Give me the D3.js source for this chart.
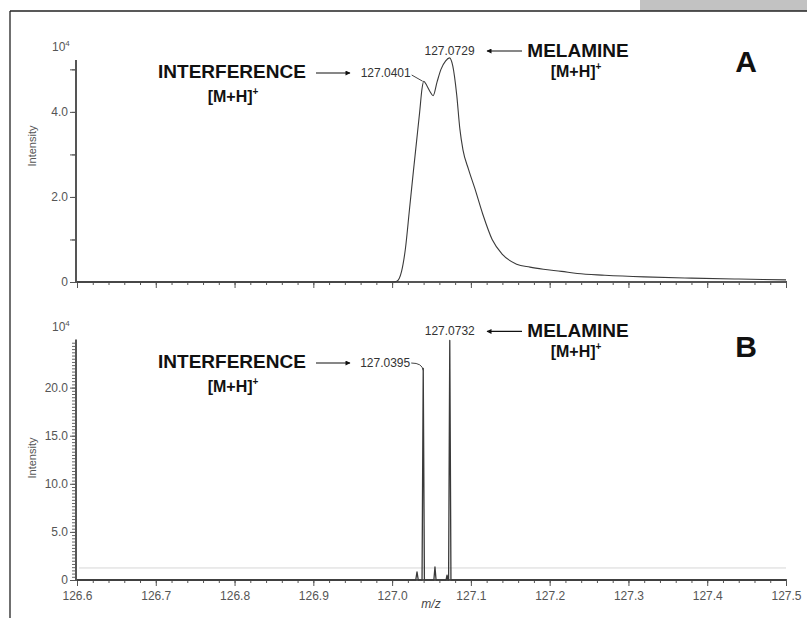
<!DOCTYPE html>
<html>
<head>
<meta charset="utf-8">
<script src="https://cdn.jsdelivr.net/npm/d3@7"></script>
<style>
  html, body { margin: 0; padding: 0; background: #fff; }
  svg { display: block; font-family: "Liberation Sans", Arial, sans-serif; }
</style>
</head>
<body>
<svg id="chart" width="807" height="618"></svg>
<script>
// m/z axis shared by both spectra
const mzDomain = [126.6, 127.5];
const mzMajorTicks = [126.6, 126.7, 126.8, 126.9, 127.0, 127.1, 127.2, 127.3, 127.4, 127.5];
const mzTickLabels = ["126.6", "126.7", "126.8", "126.9", "127.0", "127.1", "127.2", "127.3", "127.4", "127.5"];

// Spectrum A (intensity in 10^4 counts): low-resolution profile, two overlapping peaks
const mzA = [126.600, 127.000, 127.006, 127.012, 127.017, 127.022, 127.027, 127.031, 127.035, 127.038,
             127.0401, 127.044, 127.048, 127.052, 127.057, 127.062, 127.068, 127.0729, 127.077, 127.082,
             127.086, 127.090, 127.097, 127.105, 127.115, 127.127, 127.140, 127.158, 127.175, 127.192,
             127.215, 127.235, 127.270, 127.320, 127.380, 127.440, 127.500];
const intensityA = [0.0, 0.0, 0.02, 0.25, 0.8, 1.7, 2.6, 3.3, 4.0, 4.55,
                    4.72, 4.62, 4.48, 4.38, 4.7, 5.0, 5.2, 5.27, 5.08, 4.4,
                    3.6, 3.1, 2.65, 2.2, 1.6, 1.0, 0.65, 0.42, 0.35, 0.3,
                    0.25, 0.2, 0.16, 0.12, 0.09, 0.07, 0.05];
const yTicksA = [0, 1, 2, 3, 4, 5];
const yLabelsA = { 0: "0", 2: "2.0", 4: "4.0" };

// Spectrum B (intensity in 10^4 counts): high-resolution, baseline-separated peaks
const mzB = [126.600, 127.0300, 127.0316, 127.0332, 127.0380, 127.0395, 127.0410, 127.0530, 127.0544, 127.0558,
             127.0685, 127.0697, 127.0709, 127.0717, 127.0732, 127.0747, 127.500];
const intensityB = [0.0, 0.0, 0.85, 0.0, 0.0, 22.0, 0.0, 0.0, 1.35, 0.0,
                    0.0, 0.5, 0.0, 0.0, 24.9, 0.0, 0.0];
const yMajorB = [0, 5, 10, 15, 20];
const yLabelsB = ["0", "5.0", "10.0", "15.0", "20.0"];
const thresholdB = 1.25;

// Annotated peaks
const peaksA = { interference: { mz: 127.0401, label: "127.0401" }, melamine: { mz: 127.0729, label: "127.0729" } };
const peaksB = { interference: { mz: 127.0395, label: "127.0395" }, melamine: { mz: 127.0732, label: "127.0732" } };

const svg = d3.select("#chart");
const axisColor = "#555";
const traceColor = "#3a3a3a";
const labelColor = "#555";

// Frame and header tab
svg.append("rect").attr("x", 640).attr("y", 0).attr("width", 167).attr("height", 11).attr("fill", "#c2c2c2");
svg.append("line").attr("x1", 10).attr("x2", 807).attr("y1", 11).attr("y2", 11).attr("stroke", "#222").attr("stroke-width", 1.3);
svg.append("line").attr("x1", 10).attr("x2", 10).attr("y1", 11).attr("y2", 618).attr("stroke", "#222").attr("stroke-width", 1.3);

const defs = svg.append("defs");
defs.append("marker").attr("id", "arrow").attr("viewBox", "0 0 10 10")
  .attr("refX", 9).attr("refY", 5).attr("markerWidth", 7).attr("markerHeight", 5)
  .attr("markerUnits", "userSpaceOnUse").attr("orient", "auto")
  .append("path").attr("d", "M0,0 L10,5 L0,10 Z").attr("fill", "#111");

const x = d3.scaleLinear().domain(mzDomain).range([77, 786]);

function drawPanel(cfg) {
  const g = svg.append("g");
  const y = d3.scaleLinear().domain(cfg.yDomain).range(cfg.yRange);
  const y0 = y(0);

  // x axis: minor ticks every 0.02, major every 0.1
  const xMinor = d3.range(0, 46).map(i => 126.6 + i * 0.02);
  g.append("g").attr("transform", `translate(0,${y0})`)
    .call(d3.axisBottom(x).tickValues(xMinor).tickSize(3).tickFormat(""))
    .call(a => a.select(".domain").remove())
    .call(a => a.selectAll("line").attr("stroke", axisColor));
  const xMaj = g.append("g").attr("transform", `translate(0,${y0})`)
    .call(d3.axisBottom(x).tickValues(mzMajorTicks).tickSize(6).tickSizeOuter(0)
      .tickFormat((d, i) => cfg.showXLabels ? mzTickLabels[i] : ""))
    .call(a => a.select(".domain").attr("stroke", axisColor).attr("stroke-width", 2)
      .attr("d", `M75,0H787`))
    .call(a => a.selectAll("line").attr("stroke", axisColor));
  xMaj.selectAll("text").attr("fill", labelColor).attr("font-size", 12).attr("dy", "0.9em")
    .attr("font-family", "Liberation Sans, Arial, sans-serif");

  // y axis
  const yAxisX = 76;
  g.append("g").attr("transform", `translate(${yAxisX},0)`)
    .call(d3.axisLeft(y).tickValues(cfg.yMinor).tickSize(4).tickFormat(""))
    .call(a => a.select(".domain").remove())
    .call(a => a.selectAll("line").attr("stroke", "#666").attr("stroke-width", 1));
  const yMaj = g.append("g").attr("transform", `translate(${yAxisX},0)`)
    .call(d3.axisLeft(y).tickValues(cfg.yMajor).tickSize(6).tickSizeOuter(0)
      .tickFormat(cfg.yFormat))
    .call(a => a.select(".domain").attr("stroke", axisColor).attr("stroke-width", 2)
      .attr("d", `M0,${y0 + 1}V${cfg.yRange[1]}`))
    .call(a => a.selectAll("line").attr("stroke", axisColor));
  yMaj.selectAll("text").attr("fill", labelColor).attr("font-size", 12).attr("x", -8)
    .attr("font-family", "Liberation Sans, Arial, sans-serif");

  // exponent marker
  const expo = g.append("text").attr("x", 52).attr("y", cfg.yRange[1] - 9)
    .attr("font-size", 12).attr("fill", labelColor);
  expo.append("tspan").text("10");
  expo.append("tspan").text("4").attr("font-size", 8).attr("dy", -5);

  // axis title
  g.append("text").attr("transform", `translate(${cfg.titleX},${cfg.titleY}) rotate(-90)`)
    .attr("text-anchor", "middle").attr("font-size", 11).attr("fill", labelColor).text("Intensity");

  if (cfg.threshold != null) {
    g.append("line").attr("x1", 79).attr("x2", 786)
      .attr("y1", y(cfg.threshold)).attr("y2", y(cfg.threshold))
      .attr("stroke", "#d6d6d6").attr("stroke-width", 1);
  }

  // spectrum trace
  const line = d3.line().x((d, i) => x(cfg.mz[i])).y(d => y(d)).curve(cfg.curve);
  g.append("path").datum(cfg.intensity).attr("d", line)
    .attr("fill", "none").attr("stroke", traceColor).attr("stroke-width", cfg.traceWidth)
    .attr("stroke-linejoin", "round");

  // peak annotations
  const valAt = mz => cfg.intensity[cfg.mz.indexOf(mz)];
  const pi = cfg.peaks.interference, pm = cfg.peaks.melamine;
  const ix = x(pi.mz), iy = y(valAt(pi.mz));
  const mx = x(pm.mz), my = y(Math.min(valAt(pm.mz), cfg.yDomain[1]));

  // interference label with leader
  const iLabelY = cfg.iLabelY;
  g.append("text").attr("x", ix - 13).attr("y", iLabelY + 4).attr("text-anchor", "end")
    .attr("font-size", 12).attr("fill", "#333").text(pi.label);
  g.append("path").attr("d", cfg.leader(ix, iy, iLabelY))
    .attr("fill", "none").attr("stroke", "#444").attr("stroke-width", 1);
  g.append("line").attr("x1", 316).attr("x2", 350).attr("y1", iLabelY).attr("y2", iLabelY)
    .attr("stroke", "#111").attr("stroke-width", 1.2).attr("marker-end", "url(#arrow)");
  g.append("text").attr("x", 232).attr("y", cfg.iNameY).attr("text-anchor", "middle")
    .attr("font-size", 19).attr("font-weight", "bold").attr("fill", "#111").text("INTERFERENCE");
  const ib = g.append("text").attr("x", 233).attr("y", cfg.iNameY + 24).attr("text-anchor", "middle")
    .attr("font-size", 16).attr("font-weight", "bold").attr("fill", "#111");
  ib.append("tspan").text("[M+H]");
  ib.append("tspan").text("+").attr("font-size", 10).attr("dy", -7);

  // melamine label
  const mLabelY = my - cfg.mLabelGap;
  g.append("text").attr("x", mx).attr("y", mLabelY).attr("text-anchor", "middle")
    .attr("font-size", 12).attr("fill", "#333").text(pm.label);
  g.append("line").attr("x1", 522).attr("x2", 487).attr("y1", mLabelY - 4).attr("y2", mLabelY - 4)
    .attr("stroke", "#111").attr("stroke-width", 1.2).attr("marker-end", "url(#arrow)");
  g.append("text").attr("x", 578).attr("y", cfg.mNameY).attr("text-anchor", "middle")
    .attr("font-size", 19).attr("font-weight", "bold").attr("fill", "#111").text("MELAMINE");
  const mb = g.append("text").attr("x", 576).attr("y", cfg.mNameY + 20).attr("text-anchor", "middle")
    .attr("font-size", 16).attr("font-weight", "bold").attr("fill", "#111");
  mb.append("tspan").text("[M+H]");
  mb.append("tspan").text("+").attr("font-size", 10).attr("dy", -7);

  // panel letter
  g.append("text").attr("x", 746).attr("y", cfg.letterY).attr("text-anchor", "middle")
    .attr("font-size", 30).attr("font-weight", "bold").attr("fill", "#111").text(cfg.letter);
}

drawPanel({
  letter: "A", letterY: 72,
  mz: mzA, intensity: intensityA, traceWidth: 1.1, curve: d3.curveMonotoneX,
  yDomain: [0, 5.22], yRange: [282, 60],
  yMinor: yTicksA, yMajor: yTicksA, yFormat: d => yLabelsA[d] || "",
  titleX: 36, titleY: 146,
  showXLabels: false,
  peaks: peaksA,
  iLabelY: 73, iNameY: 78,
  leader: (px, py, ly) => `M${px - 12},${ly + 2} L${px - 1},${py}`,
  mLabelGap: 5, mNameY: 57
});

drawPanel({
  letter: "B", letterY: 357,
  mz: mzB, intensity: intensityB, traceWidth: 1.3, curve: d3.curveLinear,
  yDomain: [0, 25], yRange: [580, 339.5],
  yMinor: d3.range(0, 75).map(i => i / 3), yMajor: yMajorB, yFormat: (d, i) => yLabelsB[i],
  titleX: 36, titleY: 458,
  showXLabels: true, threshold: thresholdB,
  peaks: peaksB,
  iLabelY: 363, iNameY: 368,
  leader: (px, py, ly) => `M${px - 12},${ly} Q${px - 1},${ly} ${px},${py + 2}`,
  mLabelGap: 5, mNameY: 337
});

// x axis title
svg.append("text").attr("x", 431).attr("y", 608).attr("text-anchor", "middle")
  .attr("font-size", 12).attr("font-style", "italic").attr("fill", "#444").text("m/z");
</script>
</body>
</html>
